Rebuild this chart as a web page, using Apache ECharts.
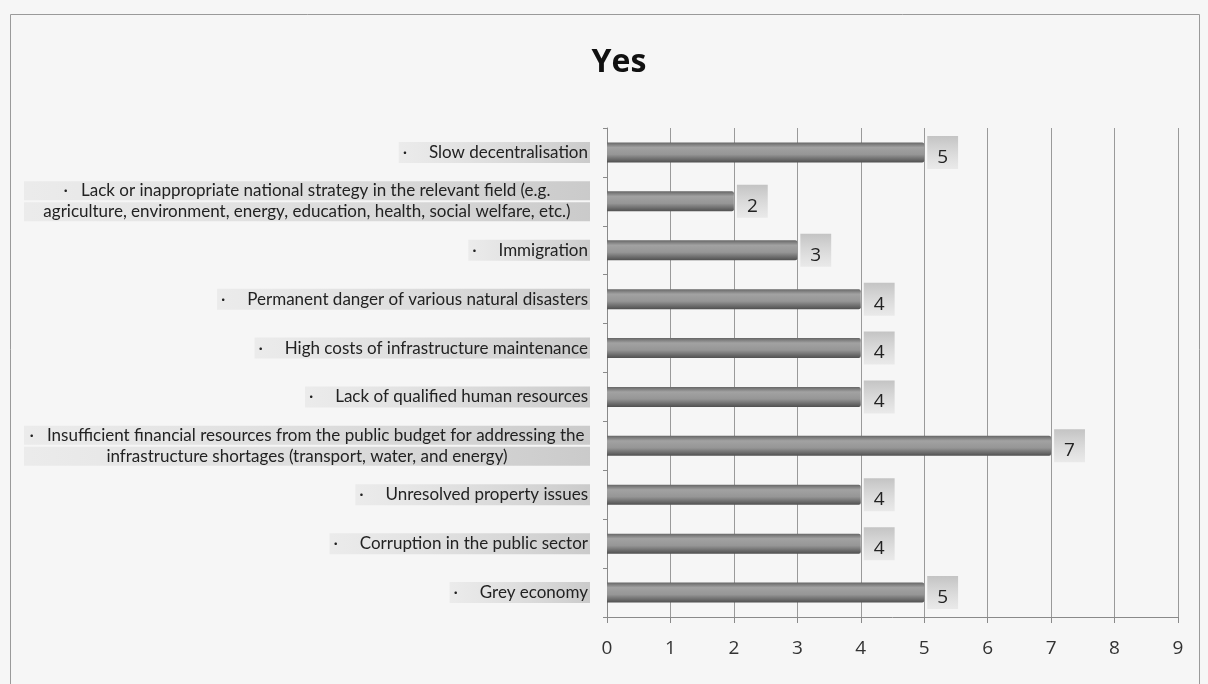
<!DOCTYPE html>
<html>
<head>
<meta charset="utf-8">
<script src="https://cdn.jsdelivr.net/npm/echarts@6/dist/echarts.min.js"></script>
<style>
  html, body { margin: 0; padding: 0; background: #f6f6f6; }
  #chart { width: 1208px; height: 684px; }
</style>
</head>
<body>
<div id="chart"></div>
<script>
// Problems reported as "Yes", listed top to bottom
const categories = [
  'Slow decentralisation',
  'Lack or inappropriate national strategy in the relevant field (e.g.\nagriculture, environment, energy, education, health, social welfare, etc.)',
  'Immigration',
  'Permanent danger of various natural disasters',
  'High costs of infrastructure maintenance',
  'Lack of qualified human resources',
  'Insufficient financial resources from the public budget for addressing the\ninfrastructure shortages (transport, water, and energy)',
  'Unresolved property issues',
  'Corruption in the public sector',
  'Grey economy'
];
const counts = [5, 2, 3, 4, 4, 4, 7, 4, 4, 5];
const xTicks = { min: 0, max: 9, interval: 1 };

const chart = echarts.init(document.getElementById('chart'));

const labelBg = new echarts.graphic.LinearGradient(0, 0, 1, 0, [
  { offset: 0, color: 'rgba(215,215,215,0.35)' },
  { offset: 1, color: 'rgba(195,195,195,0.85)' }
]);
const valueBg = new echarts.graphic.LinearGradient(0, 0, 0, 1, [
  { offset: 0, color: 'rgba(190,190,190,0.9)' },
  { offset: 1, color: 'rgba(225,225,225,0.6)' }
]);
const barFill = new echarts.graphic.LinearGradient(0, 0, 0, 1, [
  { offset: 0, color: '#666666' },
  { offset: 0.25, color: '#a2a2a2' },
  { offset: 0.6, color: '#969696' },
  { offset: 1, color: '#505050' }
]);

chart.setOption({
  backgroundColor: '#f6f6f6',
  animation: false,
  title: {
    text: 'Yes',
    left: 614,
    textAlign: 'center',
    top: 42,
    textStyle: { fontFamily: 'Open Sans', fontWeight: 'bold', fontSize: 32, color: '#111' }
  },
  graphic: [{
    type: 'rect',
    shape: { x: 10.5, y: 14.5, width: 1189, height: 700 },
    style: { fill: 'none', stroke: '#9a9a9a', lineWidth: 1 },
    silent: true
  }],
  grid: { left: 607, right: 30, top: 128, bottom: 67 },
  xAxis: {
    type: 'value',
    min: xTicks.min,
    max: xTicks.max,
    interval: xTicks.interval,
    axisLine: { show: true, lineStyle: { color: '#8a8a8a', width: 1 } },
    axisTick: { show: true, length: 6, lineStyle: { color: '#8a8a8a' } },
    axisLabel: { margin: 22, fontFamily: 'Open Sans', fontSize: 19, color: '#333' },
    splitLine: { show: true, lineStyle: { color: '#9a9a9a', width: 1 } }
  },
  yAxis: {
    type: 'category',
    inverse: true,
    data: categories,
    axisLine: { show: true, lineStyle: { color: '#8a8a8a', width: 1 } },
    axisTick: { show: true, length: 4, lineStyle: { color: '#8a8a8a' } },
    axisLabel: {
      margin: 17,
      align: 'right',
      formatter: function (v) {
        if (v.indexOf('\n') >= 0) {
          return v.split('\n').map(function (line, i) {
            return '{wide|' + (i === 0 ? '·   ' : '') + line + '}';
          }).join('\n');
        }
        return '{short|·     ' + v + '}';
      },
      rich: {
        short: {
          fontFamily: 'Lato', fontSize: 17, color: '#222',
          backgroundColor: labelBg, padding: [2, 2, 2, 4], lineHeight: 20
        },
        wide: {
          fontFamily: 'Lato', fontSize: 17, color: '#222', width: 562, align: 'center',
          backgroundColor: labelBg, padding: [1, 2, 1, 2], lineHeight: 21
        }
      }
    }
  },
  series: [{
    type: 'bar',
    data: counts,
    barWidth: 20,
    itemStyle: { color: barFill, borderRadius: [0, 2, 2, 0] },
    label: {
      show: true,
      position: 'right',
      distance: 3,
      formatter: '{v|{c}}',
      rich: {
        v: {
          fontFamily: 'Open Sans', fontSize: 19, color: '#222',
          backgroundColor: valueBg, padding: [12, 10, 2, 10], lineHeight: 22
        }
      }
    }
  }]
});
</script>
</body>
</html>
